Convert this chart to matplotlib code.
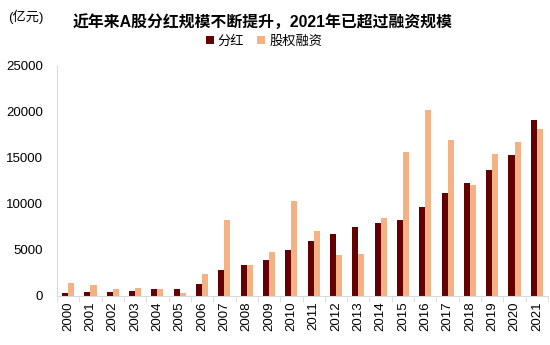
import numpy as np
import matplotlib
matplotlib.use("Agg")
import matplotlib.pyplot as plt

plt.rcParams['font.family'] = ['Liberation Sans', 'Noto Sans CJK SC', 'DejaVu Sans']

years = [str(y) for y in range(2000, 2022)]
dividend = [370, 480, 460, 590, 760, 790, 1350, 2840, 3420, 3900, 5020,
            6000, 6700, 7550, 7900, 8280, 9620, 11230, 12300, 13700, 15300, 19150]
financing = [1460, 1240, 730, 840, 760, 370, 2400, 8300, 3380, 4800, 10300,
             7100, 4500, 4600, 8480, 15650, 20200, 17000, 12100, 15400, 16700, 18150]

c_div = "#630000"
c_fin = "#F4B183"

fig = plt.figure(figsize=(5.5, 3.45), dpi=100)
ax = fig.add_axes([57 / 550, 1 - 296 / 345, 491 / 550, 230 / 345])

x = np.arange(len(years))
w = 0.27
ax.bar(x - w / 2, dividend, w, color=c_div, label="分红")
ax.bar(x + w / 2, financing, w, color=c_fin, label="股权融资")

ax.set_xlim(-0.5, len(years) - 0.5)
ax.set_ylim(0, 25000)
ax.set_yticks(range(0, 25001, 5000))
ax.set_xticks(x)
ax.set_xticklabels(years, rotation=90, fontsize=9.5)
ax.set_xticks(np.arange(-0.5, len(years)), minor=True)
ax.tick_params(axis='x', which='major', length=0, pad=4)
ax.tick_params(axis='x', which='minor', length=4, color="#d9d9d9")
ax.tick_params(axis='y', length=0, labelsize=9.5, pad=10)

for s in ["top", "right"]:
    ax.spines[s].set_visible(False)
ax.spines["left"].set_color("#d9d9d9")
ax.spines["bottom"].set_color("#d9d9d9")

fig.text(0.015, 0.95, "(亿元)", fontsize=9.5, va="center", ha="left")
fig.text(0.477, 0.935, "近年来A股分红规模不断提升，2021年已超过融资规模",
         fontsize=11.4, fontweight="bold", va="center", ha="center")
fig.legend(loc="center", bbox_to_anchor=(0.48, 0.88), ncol=2, frameon=False,
           fontsize=9.5, handlelength=0.6, handleheight=0.6, handletextpad=0.3,
           columnspacing=1.0)

fig.savefig("out.png", dpi=100)
